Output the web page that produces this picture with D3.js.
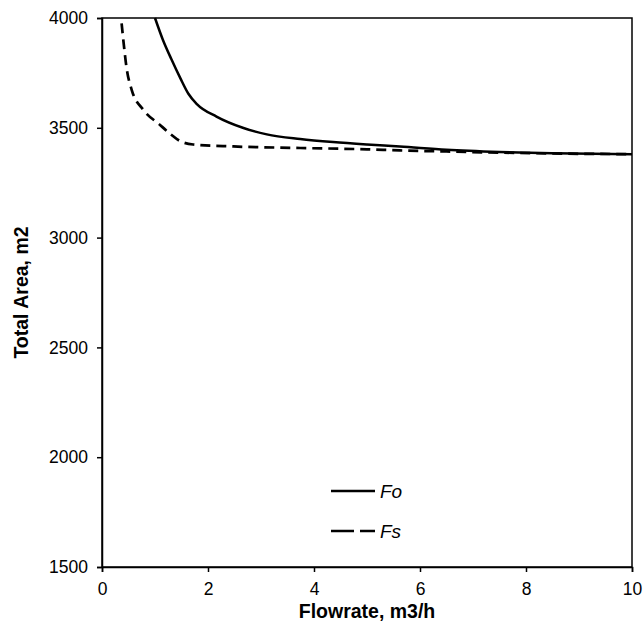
<!DOCTYPE html>
<html>
<head>
<meta charset="utf-8">
<script src="https://cdn.jsdelivr.net/npm/d3@7"></script>
<style>
  body { margin: 0; background: #fff; }
  text { font-family: "Liberation Sans", Arial, sans-serif; }
</style>
</head>
<body>
<div id="chart"></div>
<script>
// Fo curve (solid)
const foX = [1.0, 1.15, 1.31, 1.48, 1.63, 1.79, 2.16, 2.67, 3.11, 3.74, 4.36, 5.0, 5.62, 6.5, 7.5, 8.5, 10];
const foY = [4000, 3900, 3812, 3725, 3655, 3608, 3551, 3499, 3470, 3449, 3435, 3424, 3415, 3400, 3390, 3384, 3380];
// Fs curve (dashed)
const fsX = [0.37, 0.42, 0.46, 0.56, 0.78, 1.09, 1.3, 1.47, 1.72, 2.48, 3.74, 5.0, 5.62, 6.5, 7.5, 8.5, 10];
const fsY = [3976, 3860, 3779, 3673, 3582, 3514, 3470, 3440, 3424, 3415, 3408, 3402, 3397, 3392, 3387, 3383, 3380];

const xTicks = [0, 2, 4, 6, 8, 10];
const yTicks = [1500, 2000, 2500, 3000, 3500, 4000];
const legendItems = ["Fo", "Fs"];

const W = 643, H = 643;
const margin = { top: 18, right: 11, bottom: 76, left: 102 };
const width = W - margin.left - margin.right;
const height = H - margin.top - margin.bottom;

const svg = d3.select("#chart").append("svg")
  .attr("width", W).attr("height", H);
const g = svg.append("g").attr("transform", `translate(${margin.left},${margin.top})`);

const x = d3.scaleLinear().domain([0, 10]).range([0, width]);
const y = d3.scaleLinear().domain([1500, 4000]).range([height, 0]);

// frame
g.append("rect").attr("width", width).attr("height", height)
  .attr("fill", "none").attr("stroke", "#000").attr("stroke-width", 1.5);

// axes
const xAxis = g.append("g").attr("transform", `translate(0,${height})`)
  .call(d3.axisBottom(x).tickValues(xTicks).tickSize(5).tickPadding(11).tickFormat(d3.format("d")));
const yAxis = g.append("g")
  .call(d3.axisLeft(y).tickValues(yTicks).tickSize(5).tickPadding(9).tickFormat(d3.format("d")));
[xAxis, yAxis].forEach(a => {
  a.select(".domain").attr("stroke-width", 1.5);
  a.selectAll(".tick line").attr("stroke-width", 1.5);
  a.selectAll("text").style("font-size", "17.5px").attr("fill", "#000")
    .style("font-family", "'Liberation Sans', Arial, sans-serif");
});

// curves
const line = d3.line().x(d => x(d[0])).y(d => y(d[1])).curve(d3.curveMonotoneX);
const fo = foX.map((v, i) => [v, foY[i]]);
const fs = fsX.map((v, i) => [v, fsY[i]]);

g.append("path").datum(fo).attr("d", line)
  .attr("fill", "none").attr("stroke", "#000").attr("stroke-width", 2.5);
g.append("path").datum(fs).attr("d", line)
  .attr("fill", "none").attr("stroke", "#000").attr("stroke-width", 2.7)
  .attr("stroke-dasharray", "10,6");

// legend
const legend = g.append("g");
legendItems.forEach((name, i) => {
  const ly = 473 + i * 40;
  legend.append("line")
    .attr("x1", 229).attr("x2", 273).attr("y1", ly).attr("y2", ly)
    .attr("stroke", "#000").attr("stroke-width", 2.5)
    .attr("stroke-dasharray", i === 1 ? "23,6" : null);
  legend.append("text")
    .attr("x", 278).attr("y", ly + 7)
    .style("font-size", "19px").style("font-style", "italic")
    .text(name);
});

// axis titles
svg.append("text")
  .attr("x", 367).attr("y", 618)
  .attr("text-anchor", "middle")
  .style("font-size", "19.5px").style("font-weight", "bold")
  .text("Flowrate, m3/h");
svg.append("text")
  .attr("transform", `translate(28,${margin.top + height / 2}) rotate(-90)`)
  .attr("text-anchor", "middle")
  .style("font-size", "19.5px").style("font-weight", "bold")
  .text("Total Area, m2");
</script>
</body>
</html>
